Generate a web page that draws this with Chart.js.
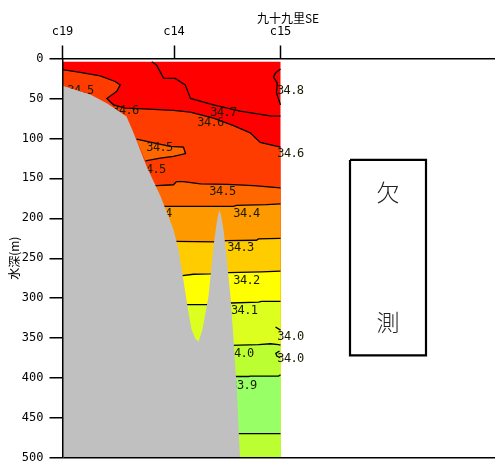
<!DOCTYPE html>
<html><head><meta charset="utf-8">
<style>html,body{margin:0;padding:0;background:#fff}canvas{display:block}</style>
<script src="https://cdn.jsdelivr.net/npm/chart.js@4"></script>
</head><body><canvas id="c" width="495" height="461"></canvas>
<script>
// Section: x = distance along the section, y = water depth (m)
const stationNames = ['c19','c14','c15'];
const stationX = [0,111.5,218];
const sectionEnd = 218;
const sectionTop = 4;
const maxDepth = 500;
const depthStep = 50;
const xMax = 432.5;
const sectionTitle = '九十九里SE';
const depthTitle = '水深(m)';
const missingLabels = ['欠','測'];
const missingBox = [[287.5,127],[363.5,127],[363.5,371.5],[287.5,371.5],[287.5,127]];
const missingLabelPos = [[325.5,167.5],[325.5,330]];

const iso347 = [[89.3,4],[94,8],[101,24.6],[112.7,25],[122.7,33],[128,50],[151,58],[177.7,66],[207.7,71.7],[218,72]];
const iso348 = [[218,13],[213,18],[211,23],[214.7,31],[214,43],[218,58]];
const iso346 = [[0,14],[17.7,17.5],[37.7,21.7],[52.7,28.75],[57.7,33],[54.3,41],[44.3,50],[51,58],[62.7,62],[81,63],[111,65],[127.7,67],[151,74.6],[171,84],[187.7,93],[197.7,105],[218,111]];
const lens345 = [[74,101],[87.7,104.6],[107.7,110],[121,111],[123,119],[111,122.5],[97.7,124.6],[83,128]];
const iso345 = [[85,159],[94,159],[111,158],[114,154],[121,154],[138,157],[165,157.5],[191,159],[218,162]];
const iso344 = [[100,185],[171,185],[174,183.75],[204,183],[218,182]];
const iso343 = [[112,229],[153,229.5],[164,228],[194,227.5],[196,225.8],[218,225]];
const iso342 = [[118,272],[131,270],[148,269.5],[166,268],[199,267],[218,266]];
const iso341 = [[122,308],[144,308],[168,306],[196,305],[199,304],[218,304]];
const iso340 = [[168,359],[196,358],[208,357],[216,358],[218,358.6]];
const iso339 = [[170,398],[186,398],[188,397.5],[216,397.5],[218,396]];
const iso339b = [[174,469.5],[218,469.5]];
const pocket340a = [[213,336],[218,340]];
const pocket340b = [[217,366],[213.3,369],[214.3,372.4],[217.7,374.5]];
const seabed = [[0,34],[27.7,45],[44.3,56],[54,64],[64,72.5],[71,93],[84,135],[98,172.5],[111,214],[116,239],[120,270],[126,318],[129,339],[133,351],[136,354.5],[140,339],[146,297.5],[151,235],[153.7,210],[155.5,196],[157,190],[158.5,196],[161,214],[164,247.5],[168,297.5],[171,351.6],[174.3,414],[177.5,500],[0,500]];

const labelTexts = ['34.5','34.6','34.7','34.6','34.5','34.5','34.5','34.4','34.4','34.3','34.2','34.1','34.0','33.9','34.8','34.6','34.0','34.0'];
const labelX = [18,63,161,148,97,90,160,184,96,178,184,181.7,178,181,227.7,228,228,228];
const labelY = [41,66,68,81,112,139,167,194.5,194.5,237.6,278.6,316,370,410,40,119.5,348.6,376];

const bandColors = ['#ff0000','#ff3c00','#ff6600','#ff9900','#ffcc00','#ffff00','#ddff1f','#bbff33','#99ff66'];

const pts = a => a.map(p => ({x:p[0],y:p[1]}));
const down = a => pts(a.concat([[sectionEnd,maxDepth],[a[0][0]<10?0:a[0][0],maxDepth]]));
const band = (a,color) => ({type:'line',data:down(a),fill:'shape',backgroundColor:color,borderWidth:0,pointRadius:0,tension:0});
const rule = a => ({type:'line',data:pts(a),fill:false,borderColor:'#000',borderWidth:1.3,pointRadius:0,tension:0});

// Chart.js paints the last dataset first, so the list runs from topmost to lowest.
const layers = [
  {type:'line',data:pts(seabed),fill:'shape',backgroundColor:'#c0c0c0',borderWidth:0,pointRadius:0,tension:0},
  rule(iso339b),rule(iso339),rule(iso340),rule(iso341),rule(iso342),rule(iso343),rule(iso344),rule(iso345),
  rule(lens345),rule(iso346),rule(iso347),rule(iso348),rule(pocket340a),rule(pocket340b),
  band(iso339b,bandColors[7]),band(iso339,bandColors[8]),band(iso340,bandColors[7]),band(iso341,bandColors[6]),
  band(iso342,bandColors[5]),band(iso343,bandColors[4]),band(iso344,bandColors[3]),band(iso345,bandColors[2]),
  {type:'line',data:pts(lens345),fill:'shape',backgroundColor:bandColors[2],borderWidth:0,pointRadius:0,tension:0},
  {type:'line',data:pts(iso346.concat([[sectionEnd,maxDepth],[0,maxDepth]])),fill:'shape',backgroundColor:bandColors[1],borderWidth:0,pointRadius:0,tension:0},
  {type:'line',data:pts([[0,sectionTop],[sectionEnd,sectionTop],[sectionEnd,maxDepth],[0,maxDepth],[0,sectionTop]]),fill:'shape',backgroundColor:bandColors[0],borderWidth:0,pointRadius:0,tension:0},
  {type:'line',data:pts(missingBox),fill:false,borderColor:'#000',borderWidth:2.2,pointRadius:0,tension:0}
];

const MONO = '"DejaVu Sans Mono","Liberation Mono",monospace';
const CJK = '"Noto Sans CJK JP",sans-serif';

const overlay = {
  id:'overlay',
  afterDatasetDraw(chart,args){
    if(args.index!==1) return;
    const {ctx,scales:{x,y}} = chart;
    ctx.save();
    ctx.fillStyle='#1a1a00';
    ctx.font='12px '+MONO;
    ctx.letterSpacing='-0.6px';
    ctx.textAlign='center';ctx.textBaseline='middle';
    labelTexts.forEach((t,i)=>ctx.fillText(t,x.getPixelForValue(labelX[i]),y.getPixelForValue(labelY[i])));
    ctx.restore();
  },
  afterDraw(chart){
    const {ctx,scales:{x,y}} = chart;
    ctx.save();
    ctx.fillStyle='#000';ctx.textAlign='center';ctx.textBaseline='middle';
    ctx.font='12px '+CJK;
    ctx.fillText(sectionTitle,288,18);
    ctx.font='300 23px '+CJK;
    ctx.fillStyle='#222';
    missingLabels.forEach((t,i)=>ctx.fillText(t,x.getPixelForValue(missingLabelPos[i][0]),y.getPixelForValue(missingLabelPos[i][1])));
    ctx.restore();
  }
};

new Chart(document.getElementById('c'),{
  type:'line',
  data:{datasets:layers},
  plugins:[overlay],
  options:{
    responsive:false,animation:false,
    layout:{padding:{left:0,right:0,top:0,bottom:3}},
    plugins:{legend:{display:false},tooltip:{enabled:false},title:{display:false}},
    scales:{
      x:{
        type:'linear',position:'top',min:0,max:xMax,
        border:{display:true,color:'#000',width:1.5,z:1},
        grid:{display:true,z:1,drawOnChartArea:false,drawTicks:true,tickLength:13,tickColor:'#000',tickWidth:1.5,color:'#000'},
        afterBuildTicks:s=>{s.ticks=stationX.map(v=>({value:v}));},
        afterFit:s=>{s.height=58.5;s.paddingLeft=0;s.paddingRight=0;},
        ticks:{autoSkip:false,maxRotation:0,padding:6,color:'#000',font:{family:MONO,size:12},
          callback:v=>stationNames[stationX.indexOf(v)]}
      },
      y:{
        type:'linear',reverse:true,min:0,max:maxDepth,
        border:{display:true,color:'#000',width:1.5,z:1},
        grid:{display:true,z:1,drawOnChartArea:true,drawTicks:true,tickLength:13,tickColor:'#000',tickWidth:1.5,lineWidth:1.5,
          color:c=>c.tick&&c.tick.value===maxDepth?'#000':'transparent'},
        afterFit:s=>{s.width=62.5;s.paddingTop=0;s.paddingBottom=0;},
        ticks:{stepSize:depthStep,padding:6,color:'#000',font:{family:MONO,size:12}},
        title:{display:true,text:depthTitle,color:'#000',font:{family:CJK,size:12},padding:{top:7,bottom:0}}
      }
    }
  }
});
</script></body></html>
